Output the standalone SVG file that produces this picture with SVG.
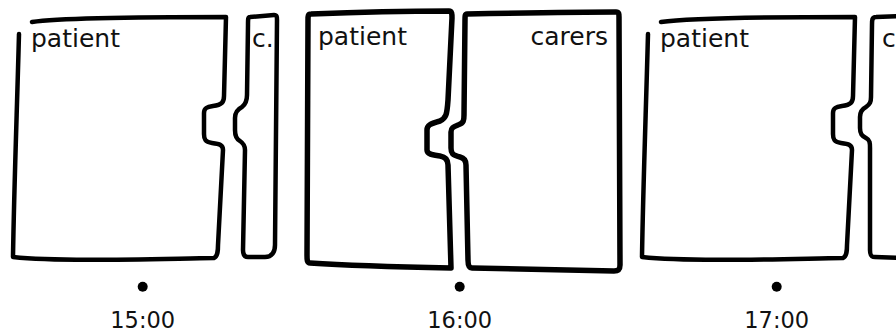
<svg xmlns="http://www.w3.org/2000/svg" width="896" height="334" viewBox="0 0 896 334">
<style>
.box{fill:none;stroke:#000;stroke-width:4.5;stroke-linecap:round;stroke-linejoin:round}
.thick{stroke-width:5.5}
.lbl{font-family:"DejaVu Sans",Verdana,sans-serif;font-size:25px;fill:#111}
.time{font-family:"DejaVu Sans",Verdana,sans-serif;font-size:22.5px;fill:#111;text-anchor:middle}
.dot{fill:#000}
</style>
<rect width="896" height="334" fill="#fff"/>
<g id="panel-1500">
  <g id="patient-1500">
    <path class="box" d="M19,34 C17,110 14,190 13,257 C60,262 150,259 214,258 C218,256 218,250 218,245 L223,150 C223,145 220,144 212,143 C205,142 204,139 204,134 L204,113 C204,108 207,107 213,106 C222,105 224,102 224,96 L226,17 C150,17 60,18 32,22"/>
    <text class="lbl" x="31" y="47">patient</text>
  </g>
  <g id="carers-1500">
    <path class="box" d="M250,17 L274,15 C277,15 277,17 277,20 L275,245 C275,252 272,257 265,257 L248,257 C244,257 243,254 243,250 L245,150 C245,145 243,143 240,141 C236,139 235,136 235,130 L235,118 C235,113 238,109 242,107 C246,104 247,101 247,95 L248,25 C248,19 248,17 250,17 Z"/>
    <text class="lbl" x="252" y="47">c.</text>
  </g>
  <g id="time-1500">
    <circle class="dot" cx="142.7" cy="286.7" r="5"/>
    <text class="time" x="142.7" y="328.3">15:00</text>
  </g>
</g>
<g id="panel-1600">
  <g id="patient-1600">
    <path class="box thick" d="M311,14 C360,12 420,11 449,11 C452,11 452,14 452,18 L448,100 C447,115 446,118 440,121 C430,124 427,125 427,130 L427,150 C427,154 432,155 440,156 C446,157 448,160 448,165 L451,268 C400,267 340,265 310,263 C307,263 307,260 307,255 L308,20 C308,16 308,14 311,14 Z"/>
    <text class="lbl" x="318" y="45">patient</text>
  </g>
  <g id="carers-1600">
    <path class="box thick" d="M467,14 C520,13 580,12 616,12 C619,12 619,14 619,17 L620,265 C620,270 618,271 614,271 C560,270 510,269 472,268 C469,268 468,265 468,260 L466,165 C466,160 464,158 460,157 C452,155 451,153 451,148 L451,132 C451,128 453,127 458,125 C464,123 464,120 464,115 L465,20 C465,16 465,14 467,14 Z"/>
    <text class="lbl" x="608" y="45" text-anchor="end">carers</text>
  </g>
  <g id="time-1600">
    <circle class="dot" cx="459.7" cy="286.7" r="5"/>
    <text class="time" x="459.7" y="328.3">16:00</text>
  </g>
</g>
<g id="panel-1700">
  <g id="patient-1700">
    <path class="box" transform="translate(629,0)" d="M19,34 C17,110 14,190 13,257 C60,262 150,259 214,258 C218,256 218,250 218,245 L223,150 C223,145 220,144 212,143 C205,142 204,139 204,134 L204,113 C204,108 207,107 213,106 C222,105 224,102 224,96 L226,17 C150,17 60,18 32,22"/>
    <text class="lbl" x="660" y="47">patient</text>
  </g>
  <g id="carers-1700">
    <path class="box" d="M900,16 L876,17 C872,17 872,20 872,25 L871,97 C871,102 870,104 866,107 C862,109 860,112 860,117 L860,128 C860,134 862,136 866,138 C870,140 870,143 870,148 L870,250 C870,255 871,257 875,257 L900,258"/>
    <text class="lbl" x="882" y="47">c</text>
  </g>
  <g id="time-1700">
    <circle class="dot" cx="776.7" cy="286.7" r="5"/>
    <text class="time" x="776.7" y="328.3">17:00</text>
  </g>
</g>
<g id="connectors"></g>
</svg>
